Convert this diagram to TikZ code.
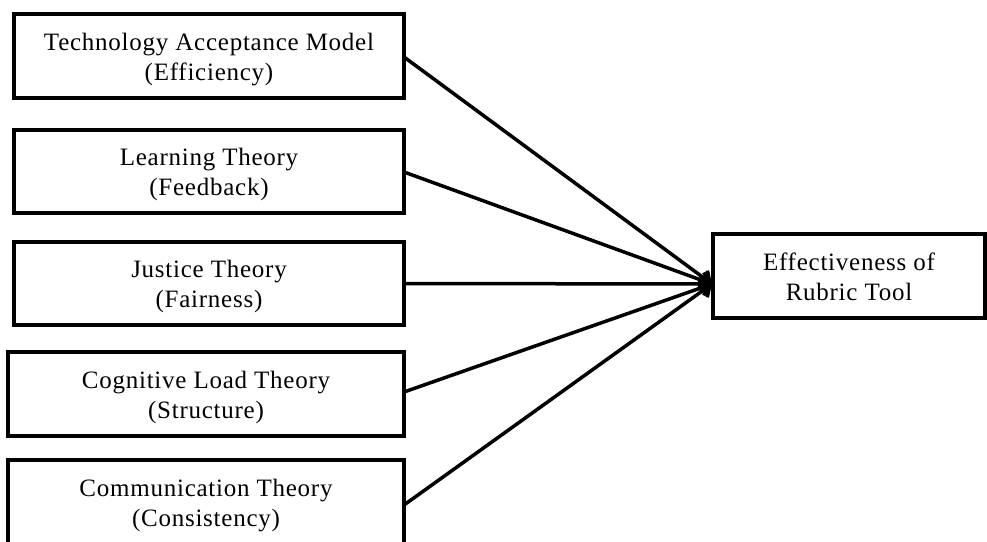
\documentclass[tikz,border=0pt]{standalone}
\usepackage{fontspec}
\setmainfont[LetterSpace=3]{Liberation Serif}
\usetikzlibrary{arrows.meta}
\newcommand{\twolines}[2]{\begin{tabular}{@{}c@{}}\rule{0pt}{27pt}#1\\#2\end{tabular}}
\tikzset{
  box/.style={draw=black, line width=3.5pt, fill=white, inner sep=0pt, align=center,
    font=\fontsize{25}{30}\selectfont},
  link/.style={line width=3.5pt, -{Straight Barb[length=9pt,width=16pt,line width=3.5pt]}}
}
\begin{document}
\begin{tikzpicture}[x=1pt,y=-1pt]
\useasboundingbox (0,0) rectangle (987,541);
\clip (0,0) rectangle (987,541);
\node[box, minimum width=390pt, minimum height=84pt] (b1) at (209,56) {\twolines{Technology Acceptance Model}{(Efficiency)}};
\node[box, minimum width=390pt, minimum height=83pt] (b2) at (209,171.5) {\twolines{Learning Theory}{(Feedback)}};
\node[box, minimum width=390pt, minimum height=83pt] (b3) at (209,283.5) {\twolines{Justice Theory}{(Fairness)}};
\node[box, minimum width=396pt, minimum height=84pt] (b4) at (206,394) {\twolines{Cognitive Load Theory}{(Structure)}};
\node[box, minimum width=396pt, minimum height=84pt] (b5) at (206,502) {\twolines{Communication Theory}{(Consistency)}};
\node[box, minimum width=272pt, minimum height=84pt] (r) at (849,276) {\twolines{Effectiveness of}{Rubric Tool}};
\coordinate (tip) at (712,284);
\coordinate (s1) at (404,57);
\coordinate (s2) at (404,172);
\coordinate (s4) at (404,392);
\coordinate (s5) at (404,505);
\draw[link] (s1) -- (tip);
\draw[link] (s2) -- (tip);
\draw[link] (b3.east) -- (tip);
\draw[link] (s4) -- (tip);
\draw[link] (s5) -- (tip);
\end{tikzpicture}
\end{document}
